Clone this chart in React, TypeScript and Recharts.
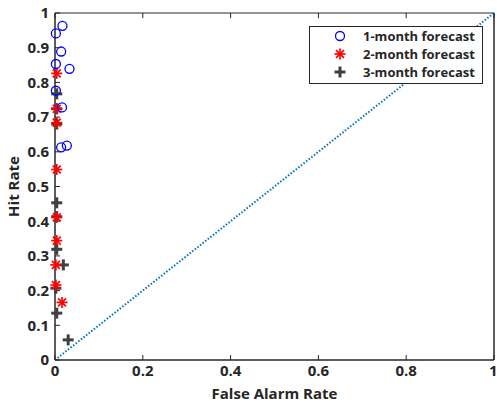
import {
  ScatterChart,
  Scatter,
  XAxis,
  YAxis,
  ReferenceLine,
  ReferenceArea,
  Label,
} from "recharts";

const month1 = [
  { x: 0.017, y: 0.963 },
  { x: 0.002, y: 0.941 },
  { x: 0.014, y: 0.889 },
  { x: 0.002, y: 0.853 },
  { x: 0.033, y: 0.839 },
  { x: 0.002, y: 0.776 },
  { x: 0.016, y: 0.728 },
  { x: 0.014, y: 0.613 },
  { x: 0.027, y: 0.618 },
];

const month2 = [
  { x: 0.004, y: 0.826 },
  { x: 0.004, y: 0.724 },
  { x: 0.004, y: 0.684 },
  { x: 0.004, y: 0.549 },
  { x: 0.004, y: 0.411 },
  { x: 0.004, y: 0.344 },
  { x: 0.002, y: 0.274 },
  { x: 0.002, y: 0.216 },
  { x: 0.016, y: 0.166 },
];

const month3 = [
  { x: 0.004, y: 0.767 },
  { x: 0.004, y: 0.724 },
  { x: 0.004, y: 0.68 },
  { x: 0.004, y: 0.453 },
  { x: 0.004, y: 0.413 },
  { x: 0.004, y: 0.319 },
  { x: 0.019, y: 0.274 },
  { x: 0.002, y: 0.207 },
  { x: 0.004, y: 0.135 },
  { x: 0.03, y: 0.058 },
];

const xTicks = [0, 0.2, 0.4, 0.6, 0.8, 1];
const yTicks = [0, 0.1, 0.2, 0.3, 0.4, 0.5, 0.6, 0.7, 0.8, 0.9, 1];

const seriesNames = ["1-month forecast", "2-month forecast", "3-month forecast"];

const INK = "#262626";
const FONT = "'Open Sans', Lato, sans-serif";
const tickStyle = { fill: INK, fontSize: 15, fontWeight: 700, fontFamily: FONT };

function CircleMark({ cx, cy }: any) {
  return <circle cx={cx} cy={cy} r={4.5} fill="none" stroke="#0000FF" strokeWidth={1.3} />;
}

function StarMark({ cx, cy }: any) {
  const r = 5.5;
  const d = r * 0.72;
  return (
    <g stroke="#FF0000" strokeWidth={1.7}>
      <line x1={cx - r} y1={cy} x2={cx + r} y2={cy} />
      <line x1={cx} y1={cy - r} x2={cx} y2={cy + r} />
      <line x1={cx - d} y1={cy - d} x2={cx + d} y2={cy + d} />
      <line x1={cx - d} y1={cy + d} x2={cx + d} y2={cy - d} />
    </g>
  );
}

function PlusMark({ cx, cy }: any) {
  const r = 5.5;
  return (
    <g stroke="#404040" strokeWidth={3}>
      <line x1={cx - r} y1={cy} x2={cx + r} y2={cy} />
      <line x1={cx} y1={cy - r} x2={cx} y2={cy + r} />
    </g>
  );
}

const markers = [CircleMark, StarMark, PlusMark];

function LegendBox() {
  return (
    <div
      style={{
        position: "absolute",
        left: 309,
        top: 26,
        border: `1px solid ${INK}`,
        background: "#fff",
        width: 174,
        height: 58,
        boxSizing: "border-box",
        fontFamily: FONT,
        fontWeight: 700,
        fontSize: 13,
        color: INK,
      }}
    >
      {seriesNames.map((name, i) => {
        const M = markers[i];
        return (
          <div key={name} style={{ display: "flex", alignItems: "center", height: 18 }}>
            <svg width={53} height={18} style={{ flex: "none" }}>
              <M cx={30} cy={9} />
            </svg>
            <span style={{ whiteSpace: "nowrap", lineHeight: "18px" }}>{name}</span>
          </div>
        );
      })}
    </div>
  );
}

export default function App() {
  return (
    <div style={{ position: "absolute", left: 0, top: 0, width: 497, height: 403, background: "#fff" }}>
      <ScatterChart width={497} height={403} margin={{ top: 13, right: 2, bottom: 0, left: 25 }}>
        <XAxis
          type="number"
          dataKey="x"
          domain={[0, 1]}
          ticks={xTicks}
          tickSize={-5}
          tickMargin={10}
          height={43}
          stroke={INK}
          tick={tickStyle}
        >
          <Label
            content={({ viewBox }: any) => (
              <text
                x={viewBox.x + viewBox.width / 2}
                y={viewBox.y + 39}
                textAnchor="middle"
                fill={INK}
                fontSize={15}
                fontWeight={700}
                fontFamily={FONT}
              >
                False Alarm Rate
              </text>
            )}
          />
        </XAxis>
        <YAxis
          type="number"
          dataKey="y"
          domain={[0, 1]}
          ticks={yTicks}
          tickSize={-5}
          tickMargin={11}
          width={30}
          stroke={INK}
          tick={tickStyle}
        >
          <Label
            content={({ viewBox }: any) => {
              const x = viewBox.x - 6;
              const y = viewBox.y + viewBox.height / 2;
              return (
                <text
                  x={x}
                  y={y}
                  transform={`rotate(-90 ${x} ${y})`}
                  textAnchor="middle"
                  fill={INK}
                  fontSize={15}
                  fontWeight={700}
                  fontFamily={FONT}
                >
                  Hit Rate
                </text>
              );
            }}
          />
        </YAxis>
        <YAxis
          yAxisId="right"
          orientation="right"
          type="number"
          dataKey="y"
          domain={[0, 1]}
          ticks={yTicks}
          tickSize={-5}
          tick={false}
          width={1}
          stroke={INK}
        />
        <ReferenceArea x1={0} x2={1} y1={0} y2={1} fill="none" stroke={INK} strokeWidth={1} />
        {xTicks.map((t) => (
          <ReferenceLine
            key={t}
            segment={[
              { x: t, y: 1 },
              { x: t, y: 0.985 },
            ]}
            stroke={INK}
          />
        ))}
        <ReferenceLine
          segment={[
            { x: 0, y: 0 },
            { x: 1, y: 1 },
          ]}
          stroke="#0072BD"
          strokeWidth={2}
          strokeDasharray="1.5 1.8"
        />
        <Scatter name={seriesNames[2]} data={month3} shape={PlusMark} isAnimationActive={false} />
        <Scatter name={seriesNames[1]} data={month2} shape={StarMark} isAnimationActive={false} />
        <Scatter name={seriesNames[0]} data={month1} shape={CircleMark} isAnimationActive={false} />
      </ScatterChart>
      <LegendBox />
    </div>
  );
}
